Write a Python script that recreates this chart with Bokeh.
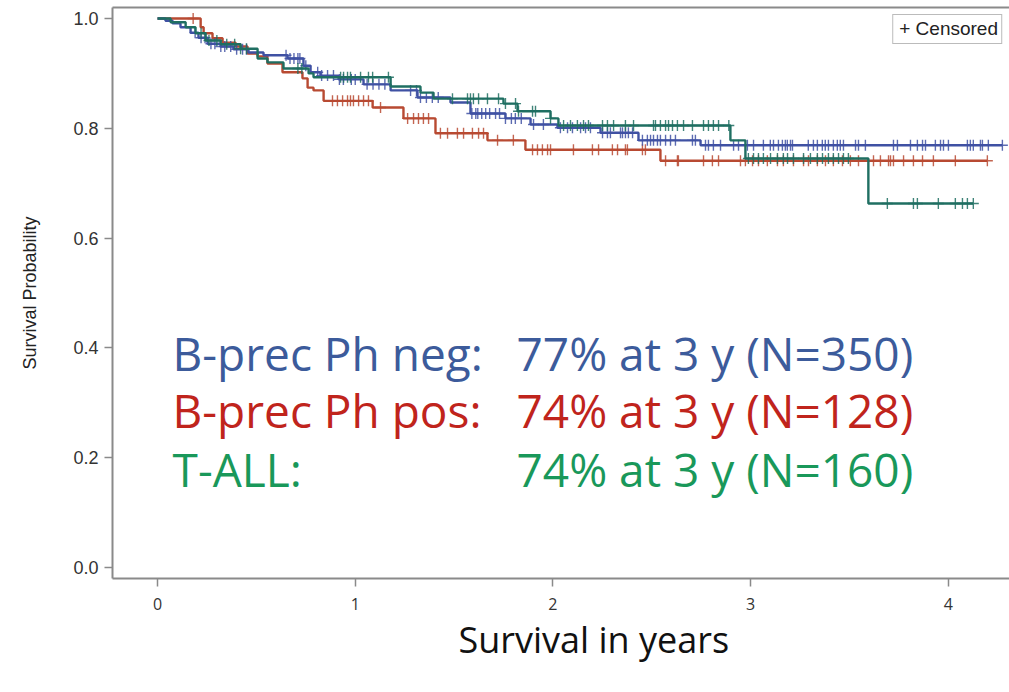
import numpy as np
from bokeh.plotting import figure
from bokeh.models import (Range1d, FixedTicker, LinearAxis, Label, Legend, LegendItem,
                          CustomJSTickFormatter, Title)
from bokeh.embed import file_html
from bokeh.resources import INLINE

# Kaplan-Meier steps: event times (years) and survival after each step
neg_t = [0, 0.04, 0.076, 0.116, 0.167, 0.207, 0.253, 0.319, 0.384, 0.46, 0.536, 0.658,
         0.738, 0.774, 0.824, 0.916, 1.042, 1.179, 1.315, 1.482, 1.583, 1.760, 1.887,
         2.023, 2.241, 2.433, 2.747]
neg_s = [1.0, 0.996, 0.991, 0.984, 0.974, 0.965, 0.954, 0.949, 0.944, 0.938, 0.933, 0.927,
         0.914, 0.902, 0.896, 0.889, 0.880, 0.869, 0.856, 0.847, 0.827, 0.818, 0.807,
         0.801, 0.792, 0.778, 0.769]
neg_end = 4.274

pos_t = [0, 0.218, 0.233, 0.278, 0.329, 0.395, 0.455, 0.506, 0.556, 0.632, 0.733, 0.759,
         0.789, 0.840, 1.088, 1.244, 1.406, 1.669, 1.861, 2.544]
pos_s = [1.0, 0.984, 0.973, 0.964, 0.956, 0.949, 0.936, 0.931, 0.918, 0.902, 0.891, 0.874,
         0.869, 0.850, 0.838, 0.818, 0.791, 0.778, 0.761, 0.741]
pos_end = 4.198

tall_t = [0, 0.066, 0.142, 0.192, 0.243, 0.319, 0.42, 0.506, 0.556, 0.637, 0.764, 0.789,
          1.179, 1.330, 1.396, 1.750, 1.821, 1.988, 2.028, 2.898, 2.974, 3.596]
tall_s = [1.0, 0.993, 0.984, 0.973, 0.960, 0.953, 0.945, 0.927, 0.920, 0.909, 0.900, 0.893,
          0.876, 0.865, 0.854, 0.845, 0.831, 0.818, 0.805, 0.778, 0.745, 0.663]
tall_end = 4.127

# Censoring times (years)
neg_cens = [0.19, 0.22, 0.24, 0.27, 0.29, 0.32, 0.34, 0.37, 0.40, 0.43, 0.45,
            0.65, 0.67, 0.69, 0.71, 0.72, 0.75, 0.81, 0.83, 0.86, 0.89, 0.92, 0.94, 0.98, 1.00,
            1.06, 1.09, 1.12, 1.15, 1.28, 1.31, 1.33, 1.36, 1.39, 1.42,
            1.59, 1.61, 1.62, 1.64, 1.66, 1.68, 1.71, 1.73, 1.76, 1.79, 1.81, 1.84,
            1.902, 1.952, 2.038, 2.074, 2.099, 2.140, 2.165, 2.190,
            2.251, 2.276, 2.291, 2.342, 2.352, 2.367, 2.382, 2.403,
            2.453, 2.478, 2.494, 2.509, 2.529, 2.544, 2.570, 2.595, 2.620, 2.706, 2.721,
            2.772, 2.787, 2.812, 2.848, 2.914, 2.939, 2.984, 3.015, 3.065, 3.100, 3.116,
            3.141, 3.161, 3.176, 3.186, 3.202, 3.212, 3.292, 3.318, 3.338, 3.363, 3.378,
            3.394, 3.419, 3.439, 3.454, 3.470, 3.531, 3.546, 3.581, 3.723, 3.743, 3.809,
            3.844, 3.870, 3.885, 3.935, 3.961, 3.976, 4.001, 4.097, 4.112, 4.127, 4.163,
            4.173, 4.203, 4.274]
pos_cens = [0.18, 0.885, 0.910, 0.936, 0.961, 0.976, 0.991, 1.017, 1.042, 1.067, 1.128,
            1.265, 1.295, 1.320, 1.345, 1.371, 1.431, 1.467, 1.517, 1.548, 1.593, 1.624,
            1.649, 1.72, 1.80, 1.897, 1.922, 1.947, 1.973, 1.988, 2.104, 2.200, 2.231,
            2.301, 2.327, 2.367, 2.377, 2.453, 2.468, 2.570, 2.630, 2.635, 2.762, 2.807,
            2.838, 2.949, 2.974, 3.010, 3.040, 3.085, 3.136, 3.166, 3.217, 3.268, 3.293,
            3.338, 3.379, 3.419, 3.465, 3.505, 3.546, 3.622, 3.657, 3.698, 3.708, 3.723,
            3.774, 3.824, 3.870, 3.925, 4.036, 4.198]
tall_cens = [0.22, 0.26, 0.30, 0.35, 0.39, 0.42, 0.45, 0.71, 0.73, 0.926, 0.941, 0.961,
             0.976, 1.027, 1.067, 1.088, 1.168, 1.492, 1.568, 1.583, 1.598, 1.624, 1.669,
             1.725, 1.760, 1.811, 1.826, 1.897, 1.912, 1.988, 2.054, 2.089, 2.124, 2.155,
             2.180, 2.251, 2.276, 2.307, 2.367, 2.408, 2.509, 2.519, 2.544, 2.570, 2.585,
             2.605, 2.630, 2.661, 2.706, 2.762, 2.787, 2.812, 2.838, 2.89, 2.989, 3.015,
             3.040, 3.065, 3.101, 3.136, 3.166, 3.187, 3.217, 3.268, 3.303, 3.338, 3.364,
             3.394, 3.419, 3.445, 3.470, 3.495, 3.692, 3.824, 3.844, 3.950, 4.036, 4.072,
             4.097, 4.127]

group_names = ["B-prec Ph neg:", "B-prec Ph pos:", "T-ALL:"]
group_stats = ["77% at 3 y (N=350)", "74% at 3 y (N=128)", "74% at 3 y (N=160)"]

x_ticks = [0, 1, 2, 3, 4]
y_ticks = [0.0, 0.2, 0.4, 0.6, 0.8, 1.0]

line_colors = ["#3f51a3", "#b84a32", "#1f6f62"]
text_colors = ["#3c5b9b", "#c0241c", "#19985a"]
axis_gray = "#8a8a8a"

p = figure(width=1009, height=692, output_backend="svg", toolbar_location=None,
           x_range=Range1d(-0.228, 4.31), y_range=Range1d(-0.02, 1.02),
           min_border_left=112, min_border_right=0, min_border_top=7, min_border_bottom=114)
p.outline_line_color = None
p.grid.visible = False
p.background_fill_color = "white"
p.border_fill_color = "white"

# axes
xa = p.xaxis[0]
xa.ticker = FixedTicker(ticks=x_ticks)
ya = p.yaxis[0]
ya.ticker = FixedTicker(ticks=y_ticks)
ya.formatter = CustomJSTickFormatter(code="return tick.toFixed(1);")
for ax in (xa, ya):
    ax.axis_line_color = axis_gray
    ax.axis_line_width = 2
    ax.major_tick_line_color = axis_gray
    ax.major_tick_line_width = 1.5
    ax.major_tick_out = 8
    ax.major_tick_in = 0
    ax.minor_tick_line_color = None
    ax.major_label_text_color = "#333333"
xa.major_label_text_font = "Open Sans"
xa.major_label_text_font_size = "16px"
xa.major_label_standoff = 11
ya.major_label_text_font = "Liberation Sans"
ya.major_label_text_font_size = "18px"
ya.major_label_standoff = 6
ya.axis_label = "Survival Probability"
ya.axis_label_text_font = "Liberation Sans"
ya.axis_label_text_font_size = "18px"
ya.axis_label_text_font_style = "normal"
ya.axis_label_text_color = "#222222"
ya.axis_label_standoff = 30

# top frame line
top = LinearAxis(ticker=FixedTicker(ticks=[]), axis_line_color=axis_gray, axis_line_width=2,
                 major_tick_line_color=None, minor_tick_line_color=None,
                 major_label_text_font_size="0px", major_label_standoff=0)
p.add_layout(top, "above")

# blank spacer panel between the tick labels and the x-axis title
spacer = LinearAxis(ticker=FixedTicker(ticks=[]), axis_line_color=None,
                    major_tick_line_color="white", minor_tick_line_color=None,
                    major_tick_out=27, major_tick_in=0, minor_tick_out=0,
                    major_label_text_font_size="0px", major_label_standoff=0,
                    axis_label_standoff=0)
p.add_layout(spacer, "below")

# x-axis title
xtitle = Title(text="Survival in years", align="left", offset=346, standoff=0,
               vertical_align="bottom",
               text_font="Open Sans", text_font_size="36px", text_font_style="normal",
               text_color="#111111")
p.add_layout(xtitle, "below")

# survival curves and censor marks
groups = [(neg_t, neg_s, neg_end, neg_cens), (pos_t, pos_s, pos_end, pos_cens),
          (tall_t, tall_s, tall_end, tall_cens)]
order = [1, 0, 2]
for i in order:
    t, s, t_end, cens = groups[i]
    xs = list(t) + [t_end]
    ys = list(s) + [s[-1]]
    p.step(xs, ys, mode="after", line_color=line_colors[i], line_width=2.4)
    idx = np.searchsorted(np.array(t), np.array(cens), side="right") - 1
    cy = np.array(s)[idx]
    p.scatter(cens, cy, marker="cross", size=11, line_color=line_colors[i],
              line_width=1.4, line_alpha=0.85)

# legend for censor marks; the "+" is part of the label text
swatch = p.scatter([np.nan], [np.nan], marker="cross", size=1, line_alpha=0)
legend = Legend(items=[LegendItem(label="+ Censored", renderers=[swatch])],
                location="top_right", margin=7, padding=3, spacing=0,
                glyph_width=0, glyph_height=18, label_height=18, label_standoff=3,
                label_text_font="Liberation Sans", label_text_font_size="19px",
                label_text_color="#222222", border_line_color="#777777",
                border_line_width=1.5, background_fill_color="white",
                background_fill_alpha=1.0)
p.add_layout(legend)

# group summaries
base_y = [0.391, 0.286, 0.180]
for i in range(3):
    p.add_layout(Label(x=0.076, y=base_y[i], text=group_names[i], text_font="Open Sans",
                       text_font_size="46px", text_color=text_colors[i],
                       text_baseline="alphabetic"))
    p.add_layout(Label(x=1.816, y=base_y[i], text=group_stats[i], text_font="Open Sans",
                       text_font_size="46px", text_color=text_colors[i],
                       text_baseline="alphabetic"))

open("out.html", "w").write(file_html(p, INLINE))
